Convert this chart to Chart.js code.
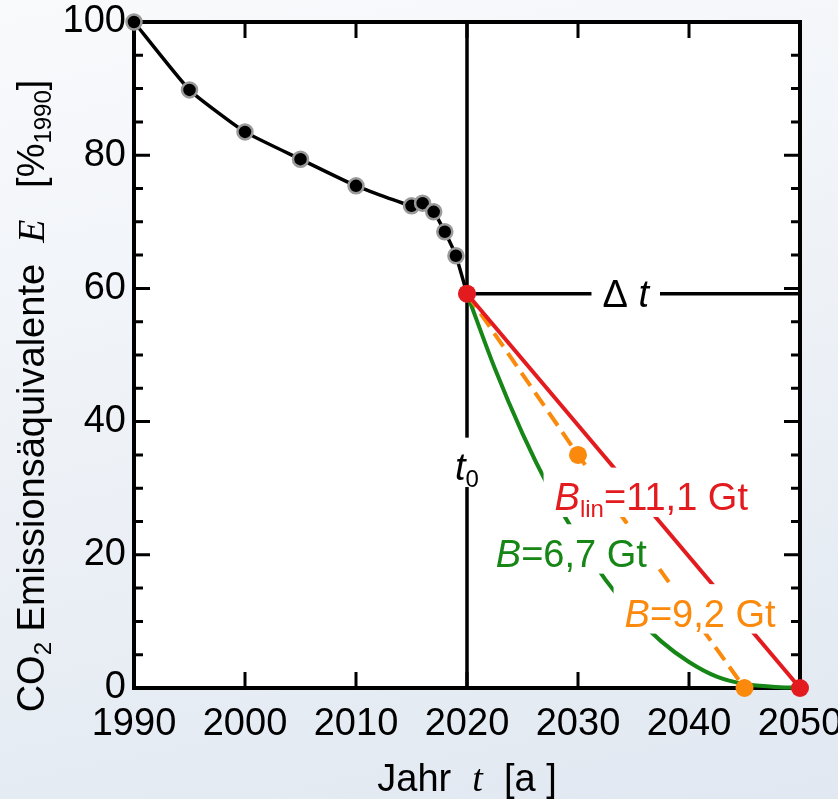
<!DOCTYPE html>
<html>
<head>
<meta charset="utf-8">
<script src="https://cdn.jsdelivr.net/npm/chart.js@4"></script>
<style>
  html, body { margin: 0; padding: 0; }
  body {
    width: 838px; height: 799px; overflow: hidden;
    background: linear-gradient(168deg, #f9fafc 0%, #eef2f7 45%, #e1e8f1 100%);
  }
  canvas { display: block; }
</style>
</head>
<body>
<canvas id="chart" width="838" height="799"></canvas>
<script>
// historical emissions, % of 1990
const histYears = [1990, 1995, 2000, 2005, 2010, 2015, 2016, 2017, 2018, 2019, 2020];
const histE = [100, 89.8, 83.5, 79.4, 75.4, 72.4, 72.8, 71.5, 68.5, 64.9, 59.2];

// linear path to zero (B_lin = 11,1 Gt)
const linYears = [2020, 2050];
const linE = [59.2, 0];

// two-step path (B = 9,2 Gt)
const midYears = [2020, 2030, 2045];
const midE = [59.2, 35, 0];

// fast decay path (B = 6,7 Gt)
const fastYears = [2020, 2022.5, 2025, 2027.5, 2030, 2032.5, 2035, 2037.5, 2040, 2042.5, 2045, 2047.5, 2050];
const fastE = [59.2, 48.0, 38.2, 29.7, 22.4, 16.2, 11.1, 7.0, 3.9, 1.7, 0.6, 0.2, 0];

const xTicks = [1990, 2000, 2010, 2020, 2030, 2040, 2050];
const yTicks = [0, 20, 40, 60, 80, 100];

const RED = "#e31b1f";
const ORANGE = "#fb890b";
const GREEN = "#168616";
const SANS = '"Liberation Sans", Arial, sans-serif';
const SERIF = '"Liberation Serif", "Times New Roman", serif';
const FS = 38;
const TFS = 38; // y title

const reg = FS + "px " + SANS;
const ital = "italic " + FS + "px " + SANS;
const italSerif = "italic " + FS + "px " + SERIF;
const sub = Math.round(FS * 0.62) + "px " + SANS;
const SUB_DY = 7;

// annotation labels, anchored in data units
const labels = [
  { x: 2020, y: 31.2, color: "#000", parts: [{ t: "t", f: ital }, { t: "0", f: sub, dy: SUB_DY }] },
  { x: 2034.3, y: 59.2, mid: true, color: "#000", parts: [{ t: "\u0394 ", f: reg }, { t: "t", f: ital }] },
  { x: 2036.6, y: 26.7, color: RED, parts: [{ t: "B", f: ital }, { t: "lin", f: sub, dy: SUB_DY }, { t: "=11,1 Gt", f: reg }] },
  { x: 2029.4, y: 18.2, color: GREEN, parts: [{ t: "B", f: ital }, { t: "=6,7 Gt", f: reg }] },
  { x: 2041.0, y: 9.2, color: ORANGE, parts: [{ t: "B", f: ital }, { t: "=9,2 Gt", f: reg }] }
];

const pts = (xs, ys) => xs.map((x, i) => ({ x: x, y: ys[i] }));

function richWidth(ctx, parts) {
  let w = 0;
  parts.forEach(p => { ctx.font = p.f; w += ctx.measureText(p.t).width; });
  return w;
}

function drawRich(ctx, parts, cx, baseY, color, box) {
  const w = richWidth(ctx, parts);
  let x = cx - w / 2;
  if (box) {
    ctx.fillStyle = "#fff";
    ctx.fillRect(x - 11, baseY - FS * 1.12, w + 22, FS * 1.3);
  }
  ctx.fillStyle = color;
  ctx.textAlign = "left";
  ctx.textBaseline = "alphabetic";
  parts.forEach(p => {
    ctx.font = p.f;
    ctx.fillText(p.t, x, baseY + (p.dy || 0));
    x += ctx.measureText(p.t).width;
  });
}

const decor = {
  id: "decor",
  beforeDraw(chart) {
    const { ctx, chartArea: a } = chart;
    ctx.save();
    ctx.fillStyle = "#fff";
    ctx.fillRect(a.left, a.top, a.right - a.left, a.bottom - a.top);
    ctx.restore();
  },
  beforeDatasetsDraw(chart) {
    const { ctx, chartArea: a, scales: { x, y } } = chart;
    ctx.save();
    ctx.strokeStyle = "#000";
    ctx.lineCap = "butt";

    // t0 line and the Δt line
    const x0 = x.getPixelForValue(2020);
    const y0 = y.getPixelForValue(linE[0]);
    ctx.lineWidth = 3.5;
    ctx.beginPath();
    ctx.moveTo(x0, a.top); ctx.lineTo(x0, a.bottom);
    ctx.moveTo(x0, y0); ctx.lineTo(a.right, y0);
    ctx.stroke();

    // inward ticks
    ctx.lineWidth = 3;
    ctx.beginPath();
    for (let v = 2000; v < 2050; v += 10) {
      const px = x.getPixelForValue(v);
      ctx.moveTo(px, a.bottom); ctx.lineTo(px, a.bottom - 16);
      ctx.moveTo(px, a.top); ctx.lineTo(px, a.top + 16);
    }
    for (let v = 5; v < 100; v += 5) {
      const py = y.getPixelForValue(v);
      const len = v % 20 === 0 ? 16 : 9;
      ctx.moveTo(a.left, py); ctx.lineTo(a.left + len, py);
      ctx.moveTo(a.right, py); ctx.lineTo(a.right - len, py);
    }
    ctx.stroke();

    // frame
    ctx.lineWidth = 4;
    ctx.strokeRect(a.left, a.top, a.right - a.left, a.bottom - a.top);
    ctx.restore();
  },
  afterDatasetsDraw(chart) {
    const { ctx, scales: { x, y } } = chart;
    ctx.save();
    labels.forEach(l => {
      const cx = x.getPixelForValue(l.x);
      let by = y.getPixelForValue(l.y);
      if (l.mid) by += FS * 0.36;
      drawRich(ctx, l.parts, cx, by, l.color, true);
    });
    ctx.restore();
  },
  afterDraw(chart) {
    const { ctx, chartArea: a } = chart;
    ctx.save();
    // x title
    drawRich(ctx, [
      { t: "Jahr  ", f: reg },
      { t: "t", f: italSerif },
      { t: "  [a ]", f: reg }
    ], (a.left + a.right) / 2, 791, "#000", false);
    // y title
    const tReg = TFS + "px " + SANS;
    const tSub = Math.round(TFS * 0.62) + "px " + SANS;
    ctx.translate(44, 396);
    ctx.rotate(-Math.PI / 2);
    drawRich(ctx, [
      { t: "CO", f: tReg },
      { t: "2", f: tSub, dy: SUB_DY },
      { t: " Emissions\u00e4quivalente  ", f: tReg },
      { t: "E", f: "italic " + TFS + "px " + SERIF },
      { t: "   [%", f: tReg },
      { t: "1990", f: tSub, dy: SUB_DY },
      { t: "]", f: tReg }
    ], 0, 0, "#000", false);
    ctx.restore();
  }
};

const tickFont = { family: SANS, size: FS };

new Chart(document.getElementById("chart"), {
  type: "line",
  data: {
    datasets: [
      {
        label: "linear", data: pts(linYears, linE),
        borderColor: RED, backgroundColor: RED, borderWidth: 4,
        pointRadius: 9, pointBorderWidth: 0, clip: false
      },
      {
        label: "B=9,2 Gt", data: pts(midYears, midE),
        borderColor: ORANGE, backgroundColor: ORANGE, borderWidth: 4, borderDash: [16, 8],
        pointRadius: [0, 9, 9], pointBorderWidth: 0, clip: false
      },
      {
        label: "B=6,7 Gt", data: pts(fastYears, fastE),
        borderColor: GREEN, borderWidth: 4, pointRadius: 0,
        cubicInterpolationMode: "monotone", clip: false
      },
      {
        label: "Emissionen", data: pts(histYears, histE),
        borderColor: "#000", backgroundColor: "#000", borderWidth: 3.5,
        pointBorderColor: "#9a9a9a", pointBorderWidth: 2.5, pointRadius: 7.5,
        tension: 0.15, clip: false
      }
    ]
  },
  options: {
    responsive: false,
    animation: false,
    layout: { padding: { top: 22, right: 38, left: 0, bottom: 0 }, autoPadding: false },
    plugins: { legend: { display: false }, tooltip: { enabled: false } },
    scales: {
      x: {
        type: "linear", min: 1990, max: 2050,
        afterBuildTicks: s => { s.ticks = xTicks.map(v => ({ value: v })); },
        ticks: { font: tickFont, color: "#000", padding: 14, maxRotation: 0, autoSkip: false, callback: v => String(v) },
        grid: { display: false, drawTicks: false },
        border: { display: false },
        afterFit: s => { s.height = 111; s.paddingLeft = 0; s.paddingRight = 0; }
      },
      y: {
        min: 0, max: 100,
        afterBuildTicks: s => { s.ticks = yTicks.map(v => ({ value: v })); },
        ticks: { font: tickFont, color: "#000", padding: 8, callback: v => String(v) },
        grid: { display: false, drawTicks: false },
        border: { display: false },
        afterFit: s => { s.width = 134; s.paddingTop = 0; s.paddingBottom = 0; }
      }
    }
  },
  plugins: [decor]
});
</script>
</body>
</html>
